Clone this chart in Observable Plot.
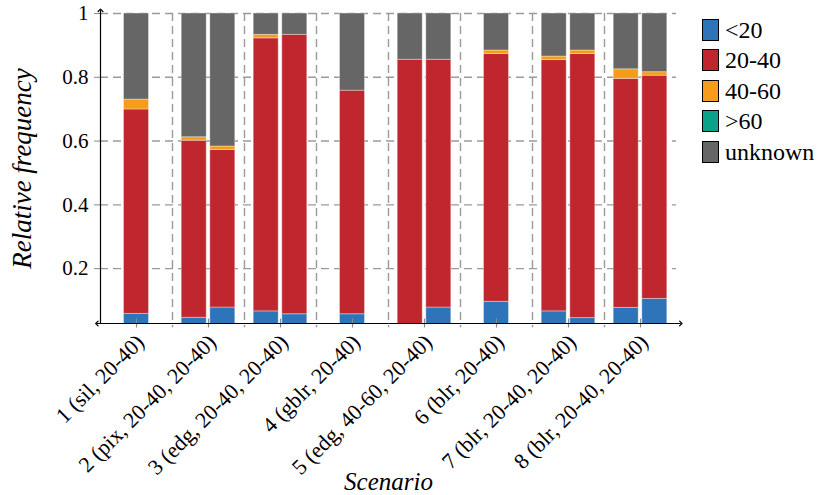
<!DOCTYPE html>
<html>
<head>
<meta charset="utf-8">
<script src="https://cdn.jsdelivr.net/npm/d3@7"></script>
<script src="https://cdn.jsdelivr.net/npm/@observablehq/plot@0.6"></script>
<style>
  body { margin: 0; background: white; }
  #wrap { position: relative; width: 822px; height: 495px; font-family: "Liberation Serif", "Times New Roman", serif; }
  #legend { position: absolute; left: 702px; top: 19px; }
  .item { display: flex; align-items: center; height: 22px; margin-bottom: 8.4px; }
  .sw { width: 15px; height: 20px; border: 1.3px solid #000; margin-right: 6px; flex: none; }
  .lab { font-size: 24px; line-height: 22px; white-space: nowrap; font-family: "Liberation Serif", "Times New Roman", serif; }
  svg text { font-family: "Liberation Serif", "Times New Roman", serif; }
</style>
</head>
<body>
<div id="wrap"><div id="legend"></div></div>
<script>
// Scenario tick labels
const scenarios = ["1 (sil, 20-40)", "2 (pix, 20-40, 20-40)", "3 (edg, 20-40, 20-40)", "4 (gblr, 20-40)",
  "5 (edg, 40-60, 20-40)", "6 (blr, 20-40)", "7 (blr, 20-40, 20-40)", "8 (blr, 20-40, 20-40)"];
// one entry per bar: which scenario, which slot inside the scenario
const barScenario = [1, 2, 2, 3, 3, 4, 5, 5, 6, 7, 7, 8, 8];
const barSlot     = [0, 0, 1, 0, 1, 0, 0, 1, 0, 0, 1, 0, 1];
// relative frequency per category (segment heights)
const catLt20   = [0.058, 0.046, 0.078, 0.066, 0.057, 0.057, 0.000, 0.078, 0.096, 0.066, 0.045, 0.077, 0.105];
const cat20_40  = [0.641, 0.555, 0.494, 0.856, 0.876, 0.701, 0.855, 0.777, 0.777, 0.788, 0.828, 0.718, 0.700];
const cat40_60  = [0.031, 0.011, 0.011, 0.011, 0.000, 0.000, 0.000, 0.000, 0.011, 0.011, 0.011, 0.030, 0.011];
const catGt60   = [0, 0, 0, 0, 0, 0, 0, 0, 0, 0, 0, 0, 0];
const catUnknown= [0.270, 0.388, 0.417, 0.067, 0.067, 0.242, 0.145, 0.145, 0.116, 0.135, 0.116, 0.175, 0.184];

const categories = ["<20", "20-40", "40-60", ">60", "unknown"];
const colors = ["#2e74b8", "#c0262d", "#f59c1b", "#0ba28a", "#666666"];
const series = [catLt20, cat20_40, cat40_60, catGt60, catUnknown];
const yTicks = [0.2, 0.4, 0.6, 0.8, 1];

const yMin = 0.028;
const pitch = 0.397, barW = 0.347;
const FONT = "'Liberation Serif', 'Times New Roman', serif";

// build stacked table
const nPerScenario = d3.rollup(barScenario, v => v.length, d => d);
const rows = [];
barScenario.forEach((s, i) => {
  const n = nPerScenario.get(s);
  const c = s + (barSlot[i] - (n - 1) / 2) * pitch;
  let acc = 0;
  categories.forEach((cat, k) => {
    const v = series[k][i];
    rows.push({cat, x1: c - barW / 2, x2: c + barW / 2, y1: acc, y2: acc + v});
    acc += v;
  });
});

const boundaries = d3.range(1.5, 8.5, 1);
const centers = d3.range(1, 9);

const chart = Plot.plot({
  width: 822, height: 495,
  marginLeft: 100, marginRight: 146, marginTop: 13, marginBottom: 172,
  x: {domain: [0.5, 8.5]},
  y: {domain: [yMin, 1]},
  color: {domain: categories, range: colors},
  style: {fontFamily: FONT, fontSize: "21px", color: "black", background: "white", overflow: "visible"},
  marks: [
    Plot.ruleY(yTicks, {stroke: "#9a9a9a", strokeWidth: 1.4, strokeDasharray: "8,5"}),
    Plot.ruleX(boundaries, {y1: 1, y2: 0.015, stroke: "#9a9a9a", strokeWidth: 1.4, strokeDasharray: "8,5", clip: false}),
    Plot.rect(rows, {x1: "x1", x2: "x2", y1: "y1", y2: "y2", fill: "cat", stroke: "white", strokeOpacity: 0.35, strokeWidth: 1, clip: true}),
    Plot.ruleX(centers, {y1: yMin - 0.014, y2: yMin + 0.014, stroke: "#888", strokeWidth: 1.2}),
    Plot.axisY({ticks: yTicks, tickFormat: d => String(d), tickSize: 6, tickPadding: 6, stroke: "#888", fontSize: 21, label: null}),
    Plot.axisX({ticks: centers, tickFormat: d => scenarios[d - 1], tickRotate: -45, tickSize: 0, tickPadding: 15, dx: 4, fontSize: 22, label: null}),
    Plot.link([0], {x1: 0.5, y1: yMin, x2: 0.5, y2: 1.01, stroke: "black", strokeWidth: 1.2, markerEnd: "arrow"}),
    Plot.link([0], {x1: 4.5, y1: yMin, x2: 8.56, y2: yMin, stroke: "black", strokeWidth: 1.2, markerEnd: "arrow"}),
    Plot.link([0], {x1: 4.5, y1: yMin, x2: 0.45, y2: yMin, stroke: "black", strokeWidth: 1.2, markerEnd: "arrow"}),
    Plot.text(["Relative frequency"], {frameAnchor: "left", textAnchor: "middle", lineAnchor: "middle", dx: -78, rotate: -90, fontSize: 27, fontStyle: "italic", fontFamily: FONT}),
    Plot.text(["Scenario"], {frameAnchor: "bottom", textAnchor: "middle", lineAnchor: "middle", dy: 158, fontSize: 25, fontStyle: "italic", fontFamily: FONT})
  ]
});
document.getElementById("wrap").prepend(chart);

const legend = document.getElementById("legend");
categories.forEach((c, i) => {
  const it = document.createElement("div");
  it.className = "item";
  it.innerHTML = `<div class="sw" style="background:${colors[i]}"></div><span class="lab"></span>`;
  it.querySelector(".lab").textContent = c;
  legend.appendChild(it);
});
</script>
</body>
</html>
